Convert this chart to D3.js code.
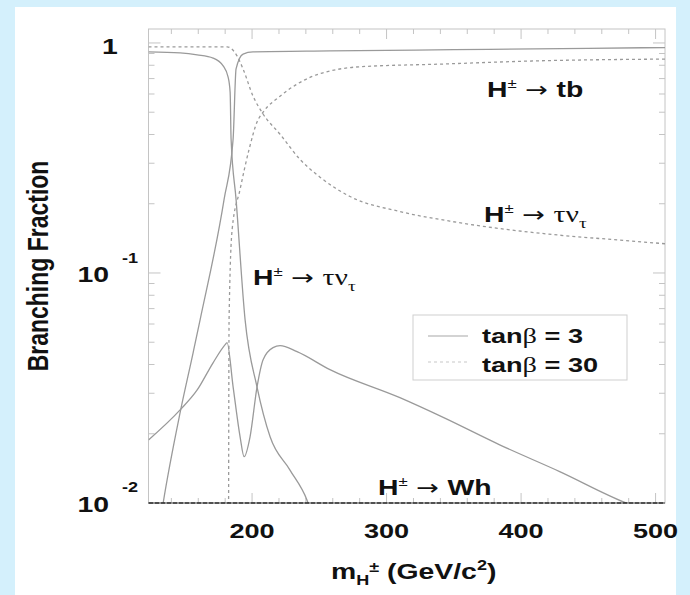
<!DOCTYPE html>
<html>
<head>
<meta charset="utf-8">
<script src="https://cdn.jsdelivr.net/npm/d3@7"></script>
<style>
body { margin: 0; background: #d4f0fc; }
svg { display: block; }
</style>
</head>
<body>
<script>
// charged Higgs branching fractions (mass in GeV/c^2)
var mTb3 = [132, 133.9, 146.5, 156.2, 161.4, 179.2, 185.9, 188.1, 193.3, 200.7, 257.9, 350, 450, 507];
var brTb3 = [0.0085, 0.01, 0.0247, 0.0451, 0.0627, 0.209, 0.382, 0.771, 0.895, 0.914, 0.923, 0.935, 0.948, 0.955];

var mTau3 = [123, 146.5, 159.2, 171, 178.5, 182.2, 183.7, 184.4, 188.1, 194.8, 203.7, 213.4, 228.2, 240.8, 243];
var brTau3 = [0.914, 0.905, 0.888, 0.86, 0.795, 0.71, 0.61, 0.382, 0.209, 0.0627, 0.0319, 0.0194, 0.0139, 0.0103, 0.0095];

var mWh3 = [123, 146.5, 159.2, 171, 180, 181.4, 185.9, 191.1, 194.1, 198.5, 203.7, 208.2, 215.6, 220.8, 233.4, 257.9, 309.9, 342.5, 384.1, 428.7, 478.4, 507];
var brWh3 = [0.0188, 0.0254, 0.031, 0.0407, 0.0488, 0.0498, 0.032, 0.0194, 0.0159, 0.0194, 0.032, 0.042, 0.0474, 0.0483, 0.0455, 0.038, 0.0287, 0.0235, 0.0179, 0.0137, 0.01, 0.0088];

var mTau30 = [123, 181.4, 188.9, 193.3, 200.7, 208.2, 220.8, 235.6, 250.5, 272.8, 309.9, 347, 384.1, 428.7, 473.3, 507];
var brTau30 = [0.962, 0.962, 0.877, 0.771, 0.588, 0.491, 0.401, 0.312, 0.261, 0.215, 0.185, 0.168, 0.156, 0.146, 0.139, 0.134];

var mTb30 = [182.55, 182.9, 185.2, 191.1, 197.8, 203.7, 208.2, 220.8, 233.4, 245.3, 257.9, 277.2, 342.5, 408.6, 507];
var brTb30 = [0.0098, 0.0627, 0.155, 0.231, 0.345, 0.453, 0.5, 0.587, 0.662, 0.718, 0.755, 0.786, 0.81, 0.835, 0.851];

var xTicks = [200, 300, 400, 500];
var xMinor = d3.range(140, 501, 20);
var yTicks = [1, 0.1, 0.01];
var legendLabels = ["3", "30"];

var W = 690, H = 595;
var SX = 1.29; // the picture is stretched sideways
var sans = "'Liberation Sans', Arial, Helvetica, sans-serif";
var serif = "'Liberation Serif', 'DejaVu Serif', serif";
var curveCol = "#9a9a9a";

var svg = d3.select("body").append("svg").attr("width", W).attr("height", H);

svg.append("rect").attr("x", 15).attr("y", 7).attr("width", 661).attr("height", H - 7).attr("fill", "#fff");

var x = d3.scaleLinear().domain([123, 507]).range([148.5, 665]);
var y = d3.scaleLog().domain([0.01, 1.15]).range([503, 29]);

svg.append("clipPath").attr("id", "clip").append("rect")
    .attr("x", x.range()[0]).attr("y", y.range()[1])
    .attr("width", x.range()[1] - x.range()[0]).attr("height", y.range()[0] - y.range()[1]);

// frame with inward ticks on all sides
var frame = svg.append("g").attr("stroke", "#c4c4c4").attr("fill", "none");
frame.append("rect").attr("x", x.range()[0]).attr("y", y.range()[1])
    .attr("width", x.range()[1] - x.range()[0]).attr("height", y.range()[0] - y.range()[1]);

xMinor.forEach(function(v) {
    var big = xTicks.indexOf(v) >= 0 ? 10 : 5;
    frame.append("line").attr("x1", x(v)).attr("x2", x(v)).attr("y1", y.range()[0]).attr("y2", y.range()[0] - big);
    frame.append("line").attr("x1", x(v)).attr("x2", x(v)).attr("y1", y.range()[1]).attr("y2", y.range()[1] + big);
});

var yMinor = [];
[0.01, 0.1].forEach(function(d) { for (var k = 1; k <= 9; k++) yMinor.push(d * k); });
yMinor.push(1);
yMinor.forEach(function(v) {
    var big = yTicks.indexOf(+v.toPrecision(3)) >= 0 ? 12 : 6;
    frame.append("line").attr("x1", x.range()[0]).attr("x2", x.range()[0] + big).attr("y1", y(v)).attr("y2", y(v));
    frame.append("line").attr("x1", x.range()[1]).attr("x2", x.range()[1] - big).attr("y1", y(v)).attr("y2", y(v));
});

// curves
var line = d3.line().x(function(d) { return x(d[0]); }).y(function(d) { return y(d[1]); }).curve(d3.curveMonotoneX);
var curves = [
    {m: mTb3, br: brTb3, dash: null},
    {m: mTau3, br: brTau3, dash: null},
    {m: mWh3, br: brWh3, dash: null},
    {m: mTau30, br: brTau30, dash: "3,3"},
    {m: mTb30, br: brTb30, dash: "3,3"}
];
svg.append("g").attr("clip-path", "url(#clip)").selectAll("path").data(curves).enter().append("path")
    .attr("d", function(c) { return line(d3.zip(c.m, c.br)); })
    .attr("fill", "none").attr("stroke", curveCol).attr("stroke-width", 1.3)
    .attr("stroke-dasharray", function(c) { return c.dash; });

// dark bottom edge
svg.append("line").attr("x1", x.range()[0]).attr("x2", x.range()[1]).attr("y1", y.range()[0]).attr("y2", y.range()[0])
    .attr("stroke", "#222").attr("stroke-width", 1.6).attr("stroke-dasharray", "5,1");

function label(px, py, parts, anchor, size) {
    var t = svg.append("text").attr("transform", "translate(" + px + "," + py + ") scale(" + SX + ",1)")
        .attr("text-anchor", anchor || "start").attr("font-family", sans).attr("font-weight", "bold")
        .attr("font-size", size || 22).attr("fill", "#111");
    parts.forEach(function(p) {
        var s = t.append("tspan").text(p.t);
        if (p.dy) s.attr("dy", p.dy);
        if (p.fs) s.attr("font-size", p.fs);
        if (p.ff) s.attr("font-family", p.ff);
        if (p.w) s.attr("font-weight", p.w);
    });
    return t;
}

// axis labels
xTicks.forEach(function(v) { label(x(v), 538, [{t: String(v)}], "middle", 21); });
label(110, y(1) + 11, [{t: "1"}], "middle", 22);
label(109, y(0.1) + 9, [{t: "10"}], "end", 22);
label(122, y(0.1) - 10, [{t: "-1"}], "start", 14);
label(109, y(0.01) + 9, [{t: "10"}], "end", 22);
label(122, y(0.01) - 11, [{t: "-2"}], "start", 14);

label(331, 579, [{t: "m"}, {t: "H", fs: 14, dy: 6}, {t: "\u00b1", fs: 14, dy: -13}, {t: " (GeV/c", dy: 7}, {t: "2", fs: 14, dy: -9}, {t: ")", dy: 9}], "start", 22);

svg.append("text").attr("transform", "translate(48,266) scale(" + SX + ",1) rotate(-90)")
    .attr("text-anchor", "middle").attr("font-family", sans).attr("font-weight", "bold")
    .attr("font-size", 23).attr("fill", "#111").text("Branching Fraction");

// channel labels
function arrowParts(rest) {
    return [{t: "H"}, {t: "\u00b1", fs: 13, dy: -9, w: "normal"}, {t: " \u2192 ", dy: 9, w: "normal", ff: "'DejaVu Sans', sans-serif", fs: 21}].concat(rest);
}
label(487, 97, arrowParts([{t: "tb"}]));
var tauNu = [{t: "\u03c4\u03bd", ff: serif, w: "normal", fs: 23}, {t: "\u03c4", ff: serif, w: "normal", fs: 15, dy: 6}];
label(484, 222, arrowParts(tauNu));
label(253, 285, arrowParts(tauNu));
label(378, 495, arrowParts([{t: "Wh"}]));

// legend
var lg = svg.append("g");
lg.append("rect").attr("x", 413).attr("y", 315).attr("width", 214).attr("height", 65)
    .attr("fill", "#fff").attr("stroke", "#cfcfcf");
legendLabels.forEach(function(v, i) {
    var ly = [336, 362][i];
    lg.append("line").attr("x1", 428).attr("x2", 468).attr("y1", ly).attr("y2", ly)
        .attr("stroke", i ? "#c8c8c8" : "#a8a8a8").attr("stroke-width", 1.2).attr("stroke-dasharray", i ? "3,3" : null);
    label(482, [343, 372][i], [{t: "tan"}, {t: "\u03b2", ff: serif, w: "normal", fs: 22}, {t: " = " + v}], "start", 21);
});
</script>
</body>
</html>
